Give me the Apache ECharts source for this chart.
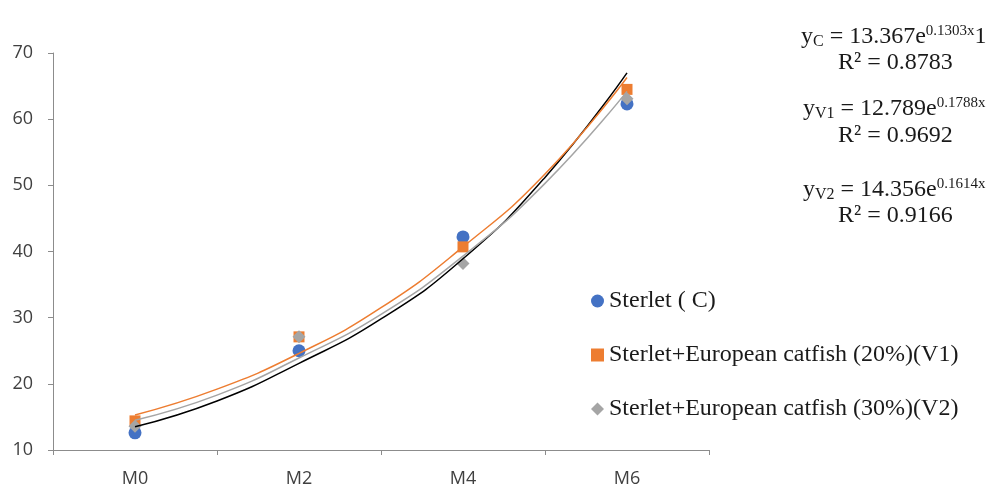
<!DOCTYPE html>
<html><head><meta charset="utf-8">
<script src="https://cdn.jsdelivr.net/npm/echarts@6/dist/echarts.min.js"></script>
<style>html,body{margin:0;padding:0;background:#fff}#c{width:990px;height:492px}</style>
</head><body><div id="c"></div>
<script>
const categories = ['M0','M2','M4','M6'];
const seriesNames = ['Sterlet ( C)','Sterlet+European catfish (20%)(V1)','Sterlet+European catfish (30%)(V2)'];
const valuesC  = [12.6, 25.0, 42.2, 62.3];
const valuesV1 = [14.4, 27.1, 40.7, 64.5];
const valuesV2 = [13.6, 27.1, 38.2, 63.1];
// trendline values, at each category and half-way between categories
const trendX  = [0, 0.5, 1, 1.5, 2, 2.5, 3];
const trendC  = [13.5, 17.4, 23.1, 29.8, 38.9, 51.2, 67.0];
const trendV1 = [15.3, 19.2, 24.6, 31.5, 40.7, 51.7, 66.3];
const trendV2 = [14.5, 18.3, 23.9, 30.5, 39.3, 50.3, 64.2];
const yTicks = [10, 20, 30, 40, 50, 60, 70];

const chart = echarts.init(document.getElementById('c'));
const serif = '"Liberation Serif","Times New Roman",serif';
const axisCol = '#8c8c8c';
const txtCol = '#1a1a1a';
const richEq = {
  n:   {fontSize: 24, fontFamily: serif, color: txtCol, lineHeight: 26},
  sub: {fontSize: 16, fontFamily: serif, color: txtCol, lineHeight: 10, verticalAlign: 'bottom'},
  sup: {fontSize: 15, fontFamily: serif, color: txtCol, lineHeight: 15, verticalAlign: 'top'}
};
function eqText(x, y, txt){
  return {type:'text', left:x, top:y, style:{text:txt, rich:richEq, fill:txtCol}};
}
const pairs = ys => trendX.map((x, i) => [x, ys[i]]);
chart.setOption({
  animation: false,
  grid: {left: 53, right: 281, top: 53, bottom: 42},
  legend: {
    orient: 'vertical', left: 586, top: 284, itemGap: 30, itemWidth: 13, itemHeight: 13,
    textStyle: {fontFamily: serif, fontSize: 24, color: txtCol},
    data: [
      {name: seriesNames[0], icon: 'circle'},
      {name: seriesNames[1], icon: 'rect'},
      {name: seriesNames[2], icon: 'diamond'}
    ]
  },
  xAxis: [{
    type: 'category', data: categories, boundaryGap: true,
    axisLine: {onZero: false, lineStyle: {color: axisCol}},
    axisTick: {show: true, length: 5, lineStyle: {color: axisCol}},
    axisLabel: {fontFamily: '"Open Sans",sans-serif', fontSize: 18, color: '#404040', margin: 20}
  }, {
    type: 'value', min: -0.5, max: categories.length - 0.5, show: false,
    axisLine: {show: false, onZero: false}, splitLine: {show: false}
  }],
  yAxis: {
    type: 'value', min: yTicks[0], max: yTicks[yTicks.length-1], interval: 10,
    splitLine: {show: false},
    axisLine: {show: true, onZero: false, lineStyle: {color: axisCol}},
    axisTick: {show: true, length: 5, lineStyle: {color: axisCol}},
    axisLabel: {fontFamily: '"Open Sans",sans-serif', fontSize: 18, color: '#404040', margin: 20}
  },
  series: [
    {name: seriesNames[0], type: 'scatter', data: valuesC, symbol: 'circle', symbolSize: 13, itemStyle: {color: '#4472C4', opacity: 1}, z: 2},
    {name: seriesNames[1], type: 'scatter', data: valuesV1, symbol: 'rect', symbolSize: 11, itemStyle: {color: '#ED7D31', opacity: 1}, z: 3},
    {name: seriesNames[2], type: 'scatter', data: valuesV2, symbol: 'diamond', symbolSize: 13, itemStyle: {color: '#A5A5A5', opacity: 1}, z: 4},
    {name: 'trendC', type: 'line', xAxisIndex: 1, data: pairs(trendC), smooth: 0.5, showSymbol: false, lineStyle: {color: '#000', width: 1.5}, z: 5, silent: true},
    {name: 'trendV1', type: 'line', xAxisIndex: 1, data: pairs(trendV1), smooth: 0.5, showSymbol: false, lineStyle: {color: '#ED7D31', width: 1.5}, z: 5, silent: true},
    {name: 'trendV2', type: 'line', xAxisIndex: 1, data: pairs(trendV2), smooth: 0.5, showSymbol: false, lineStyle: {color: '#A5A5A5', width: 1.5}, z: 5, silent: true}
  ],
  graphic: [
    eqText(801, 24, '{n|y}{sub|C}{n| = 13.367e}{sup|0.1303x}{n|1}'),
    eqText(838, 51, '{n|R² = 0.8783}'),
    eqText(803, 96, '{n|y}{sub|V1}{n| = 12.789e}{sup|0.1788x}'),
    eqText(838, 124, '{n|R² = 0.9692}'),
    eqText(803, 177, '{n|y}{sub|V2}{n| = 14.356e}{sup|0.1614x}'),
    eqText(838, 204, '{n|R² = 0.9166}')
  ]
});
</script></body></html>
